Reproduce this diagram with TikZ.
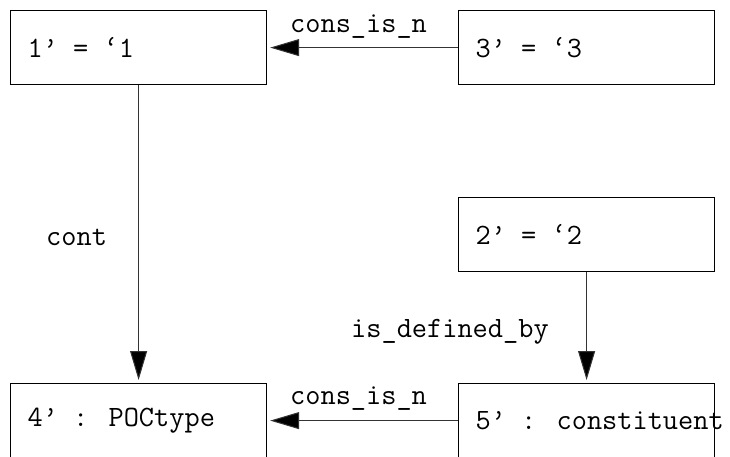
\documentclass[tikz,border=0pt]{standalone}
\usepackage{fontspec}
\usetikzlibrary{arrows.meta}
\tikzset{
  box/.style={draw=black, line width=1.2pt, minimum width=256pt, minimum height=74pt, inner sep=0pt, anchor=north west},
  conn/.style={draw=black!80, line width=1pt, shorten >=3pt, -{Triangle[length=29pt, width=17pt, fill=black]}},
  lbl/.style={inner sep=0pt, anchor=base west}
}
\begin{document}
\begin{tikzpicture}[x=1pt, y=-1pt, font=\fontsize{29.5}{34}\selectfont\ttfamily]
\useasboundingbox (0,0) rectangle (730,456);
\node[box] (n1) at (10,10) {\makebox[222pt][l]{1’ = ‘1}};
\node[box] (n3) at (458,10) {\makebox[222pt][l]{3’ = ‘3}};
\node[box] (n2) at (458,197) {\makebox[222pt][l]{2’ = ‘2}};
\node[box] (n4) at (10,383) {\makebox[222pt][l]{4’ : POCtype}};
\node[box] (n5) at (458,383) {\makebox[222pt][l]{5’ : constituent}};
\draw[conn] (n3.west) -- (n1.east);
\draw[conn] (n1.south) -- (n4.north);
\draw[conn] (n2.south) -- (n5.north);
\draw[conn] (n5.west) -- (n4.east);
\node[lbl] (l1) at (290,32) {cons\_is\_n};
\node[lbl] (l2) at (46,245) {cont};
\node[lbl] (l3) at (351,337) {is\_defined\_by};
\node[lbl] (l4) at (290,404) {cons\_is\_n};
\end{tikzpicture}
\end{document}
